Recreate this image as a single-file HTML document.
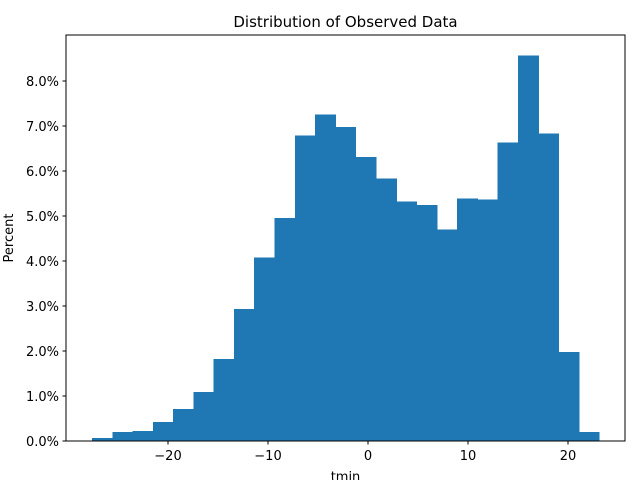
<!DOCTYPE html>
<html><head><meta charset="utf-8"><style>
body{margin:0;background:#fff;}
svg{display:block;font-family:"DejaVu Sans","Liberation Sans",sans-serif;}
</style></head><body>
<svg id="chart" width="640" height="480"></svg>
<script>
const binStart = -27.6;
const binWidth = 2.028;
const percents = [0.07,0.2,0.22,0.42,0.71,1.09,1.82,2.93,4.08,4.96,6.79,7.25,6.98,6.31,5.83,5.32,5.24,4.70,5.39,5.37,6.63,8.57,6.83,1.98,0.2];
const xTicks = [-20,-10,0,10,20];
const xTickLabels = ["\u221220","\u221210","0","10","20"];
const yTicks = [0,1,2,3,4,5,6,7,8];
const yTickLabels = ["0.0%","1.0%","2.0%","3.0%","4.0%","5.0%","6.0%","7.0%","8.0%"];

const L=66,R=625,T=35,B=441;
const xmin=-30.2,xmax=25.7,ymin=0,ymax=9.0222;
const xs=v=>L+(v-xmin)/(xmax-xmin)*(R-L);
const ys=v=>B-(v-ymin)/(ymax-ymin)*(B-T);
const NS="http://www.w3.org/2000/svg";
const svg=document.getElementById('chart');
function mk(tag,attrs,parent){const e=document.createElementNS(NS,tag);for(const k in attrs)e.setAttribute(k,attrs[k]);(parent||svg).appendChild(e);return e;}

const bars=mk('g',{'shape-rendering':'crispEdges'});


percents.forEach((p,i)=>{
  const x0=xs(binStart+i*binWidth),x1=xs(binStart+(i+1)*binWidth);
  const r=mk('rect',{x:x0,y:ys(p),width:x1-x0+0.6,height:ys(0)-ys(p),fill:'#1f77b4'},bars);
  
  
});

const frame=mk('rect',{x:L,y:T,width:R-L,height:B-T,fill:'none',stroke:'#000','stroke-width':1});



xTicks.forEach((t,i)=>{
  const x=xs(t);
  mk('line',{x1:x,x2:x,y1:B,y2:B+3.5,stroke:'#000'});
  const tx=mk('text',{x:x,y:B+19,'text-anchor':'middle','font-size':13});
  tx.textContent=xTickLabels[i];
  
  
});
yTicks.forEach((t,i)=>{
  const y=ys(t);
  mk('line',{x1:L-3.5,x2:L,y1:y,y2:y,stroke:'#000'});
  const tx=mk('text',{x:L-7,y:y+5,'text-anchor':'end','font-size':13});
  tx.textContent=yTickLabels[i];
  
  
});

const title=mk('text',{x:(L+R)/2,y:27,'text-anchor':'middle','font-size':15});
title.textContent='Distribution of Observed Data';


const xl=mk('text',{x:(L+R)/2,y:481,'text-anchor':'middle','font-size':13});
xl.textContent='tmin';


const yl=mk('text',{x:13,y:(T+B)/2,'text-anchor':'middle','font-size':13,transform:'rotate(-90 13 '+((T+B)/2)+')'});
yl.textContent='Percent';


</script>
</body></html>
